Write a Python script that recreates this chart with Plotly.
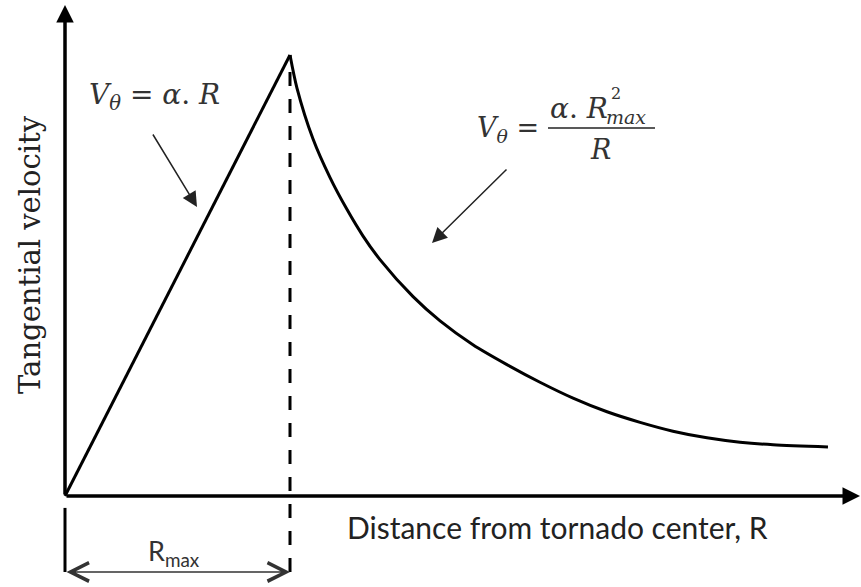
import plotly.graph_objects as go

# Schematic data (R in units of Rmax, V in units of Vmax)
rise_R = [0.0, 1.0]
rise_V = [0.0, 1.0]

decay_R = [1.0, 1.031, 1.102, 1.178, 1.253, 1.324, 1.400, 1.547, 1.667, 1.813,
           1.964, 2.111, 2.258, 2.409, 2.556, 2.702, 2.853, 3.000, 3.147, 3.391]
decay_V = [1.0, 0.925, 0.810, 0.722, 0.650, 0.590, 0.536, 0.452, 0.397, 0.343,
           0.298, 0.258, 0.222, 0.191, 0.167, 0.147, 0.132, 0.122, 0.116, 0.111]

R_MAX = 1.0
V_MAX = 1.0

SERIF = "DejaVu Serif"
SANS = "Lato"

fig = go.Figure()
fig.add_trace(go.Scatter(x=rise_R, y=rise_V, mode="lines",
                         line=dict(color="black", width=3), hoverinfo="skip"))
fig.add_trace(go.Scatter(x=decay_R, y=decay_V, mode="lines",
                         line=dict(color="black", width=3, shape="spline", smoothing=0.8),
                         hoverinfo="skip"))

Y_DIM = -0.1723

shapes = [
    dict(type="line", xref="x", yref="y", x0=R_MAX, x1=R_MAX, y0=Y_DIM, y1=V_MAX,
         line=dict(color="black", width=3, dash="14px,13px")),
    dict(type="line", xref="x", yref="y", x0=0, x1=0, y0=-0.027, y1=Y_DIM,
         line=dict(color="black", width=3)),
    dict(type="line", xref="x", yref="y", x0=2.1467, x1=2.6222, y0=0.8345, y1=0.8345,
         line=dict(color="#222", width=1.5)),
]

ann = []
ann.append(dict(x=0, y=1.1134, ax=0, ay=0, xref="x", yref="y", axref="x", ayref="y",
                text="", showarrow=True, arrowhead=2, arrowsize=1.0, arrowwidth=3.5,
                arrowcolor="black", standoff=0, startstandoff=0))
ann.append(dict(x=3.5333, y=0, ax=0, ay=0, xref="x", yref="y", axref="x", ayref="y",
                text="", showarrow=True, arrowhead=2, arrowsize=1.0, arrowwidth=3.5,
                arrowcolor="black", standoff=0, startstandoff=0))
ann.append(dict(x=0.5867, y=0.6553, ax=0.3867, ay=0.8231, xref="x", yref="y",
                axref="x", ayref="y", text="", showarrow=True, arrowhead=2,
                arrowsize=2.0, arrowwidth=1.5, arrowcolor="#222"))
ann.append(dict(x=1.6311, y=0.5737, ax=1.9689, ay=0.7438, xref="x", yref="y",
                axref="x", ayref="y", text="", showarrow=True, arrowhead=2,
                arrowsize=2.0, arrowwidth=1.5, arrowcolor="#222"))
ann.append(dict(x=R_MAX, y=Y_DIM, ax=0, ay=Y_DIM, xref="x", yref="y",
                axref="x", ayref="y", text="", showarrow=True, arrowhead=5,
                startarrowhead=5, arrowside="end+start", arrowsize=2.6,
                startarrowsize=2.6, arrowwidth=1.4, arrowcolor="#333"))

ann.append(dict(x=-0.1556, y=0.5488, xref="x", yref="y", text="Tangential velocity",
                textangle=-90, showarrow=False,
                font=dict(family=SERIF, size=29, color="#222")))
ann.append(dict(x=2.1867, y=-0.0703, xref="x", yref="y",
                text="Distance from tornado center, R", showarrow=False,
                font=dict(family=SANS, size=30, color="#222")))
ann.append(dict(x=0.4844, y=-0.127, xref="x", yref="y",
                text="R<sub>max</sub>", showarrow=False,
                font=dict(family=SANS, size=27, color="#333")))
ann.append(dict(x=0.0978, y=0.9048, xref="x", yref="y", xanchor="left",
                text="<i>V</i><sub><i>θ</i></sub> = <i>α</i>. <i>R</i>", showarrow=False,
                font=dict(family=SERIF, size=28, color="#333")))
ann.append(dict(x=1.8222, y=0.830, xref="x", yref="y", xanchor="left",
                text="<i>V</i><sub><i>θ</i></sub> =", showarrow=False,
                font=dict(family=SERIF, size=27, color="#333")))
ann.append(dict(x=2.1467, y=0.8776, xref="x", yref="y", xanchor="left",
                text="<i>α</i>. <i>R</i>", showarrow=False,
                font=dict(family=SERIF, size=28, color="#333")))
ann.append(dict(x=2.418, y=0.9120, xref="x", yref="y", xanchor="left",
                text="2", showarrow=False,
                font=dict(family=SERIF, size=16, color="#333")))
ann.append(dict(x=2.395, y=0.8600, xref="x", yref="y", xanchor="left",
                text="<i>max</i>", showarrow=False,
                font=dict(family=SERIF, size=19, color="#333")))
ann.append(dict(x=2.3822, y=0.7846, xref="x", yref="y",
                text="<i>R</i>", showarrow=False,
                font=dict(family=SERIF, size=27, color="#333")))

fig.update_layout(
    width=861, height=587,
    margin=dict(l=0, r=0, t=0, b=0),
    paper_bgcolor="white", plot_bgcolor="white",
    showlegend=False,
    xaxis=dict(range=[-0.28889, 3.53778], visible=False, fixedrange=True),
    yaxis=dict(range=[-0.20635, 1.12472], visible=False, fixedrange=True),
    shapes=shapes, annotations=ann,
)

fig.write_html("out.html", config={"displayModeBar": False, "staticPlot": True},
               post_script="document.body.style.margin='0';document.body.style.overflow='hidden';")
